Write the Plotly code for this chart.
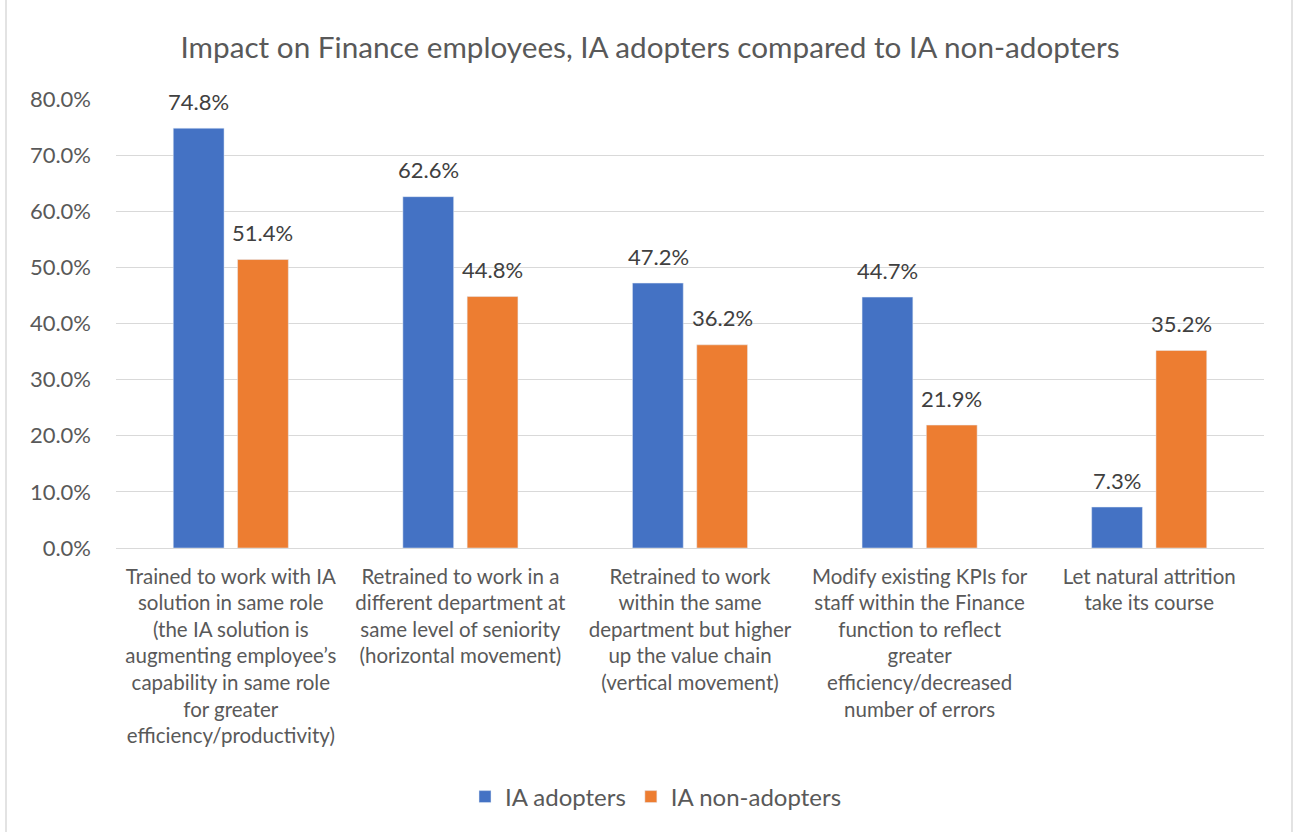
import plotly.graph_objects as go

categories = [
    "Trained to work with IA<br>solution in same role<br>(the IA solution is<br>augmenting employee’s<br>capability in same role<br>for greater<br>efficiency/productivity)",
    "Retrained to work in a<br>different department at<br>same level of seniority<br>(horizontal movement)",
    "Retrained to work<br>within the same<br>department but higher<br>up the value chain<br>(vertical movement)",
    "Modify existing KPIs for<br>staff within the Finance<br>function to reflect<br>greater<br>efficiency/decreased<br>number of errors",
    "Let natural attrition<br>take its course",
]
adopters = [0.748, 0.626, 0.472, 0.447, 0.073]
non_adopters = [0.514, 0.448, 0.362, 0.219, 0.352]
y_ticks = [0.0, 0.1, 0.2, 0.3, 0.4, 0.5, 0.6, 0.7, 0.8]

W, H = 1293, 832
ML, MR, MT, MB = 116, 29, 99, 284
TEXT = "#595959"
LABEL = "#404040"
FONT = "Lato, Carlito, Calibri, sans-serif"
BLUE, ORANGE = "#4472C4", "#ED7D31"

fig = go.Figure()
fig.add_bar(name="IA adopters", x=categories, y=adopters, marker=dict(color=BLUE))
fig.add_bar(name="IA non-adopters", x=categories, y=non_adopters, marker=dict(color=ORANGE))

# value labels above each bar, offset left/right to sit over its bar
for vals, dx in ((adopters, -32), (non_adopters, 32)):
    for cat, v in zip(categories, vals):
        fig.add_annotation(
            x=cat, y=v, xref="x", yref="y", text=f"{v*100:.1f}%",
            showarrow=False, xshift=dx, yshift=27, yanchor="middle",
            font=dict(size=22, color=LABEL, family=FONT),
        )

# light frame around the whole chart
pw, ph = W - ML - MR, H - MT - MB
fig.add_shape(
    type="rect", xref="paper", yref="paper",
    x0=(6 - ML) / pw, x1=(W - 1 - ML) / pw,
    y0=-(H + 5 - MT - ph) / ph, y1=(H - 6 - MT) / ph,
    line=dict(color="#E3E3E3", width=2), layer="below",
)

fig.update_layout(
    width=W, height=H,
    margin=dict(l=ML, r=MR, t=MT, b=MB),
    paper_bgcolor="white", plot_bgcolor="white",
    font=dict(family=FONT, color=TEXT),
    title=dict(
        text="Impact on Finance employees, IA adopters compared to IA non-adopters",
        x=650 / W, xref="container", xanchor="center", y=1 - 48 / H, yanchor="middle",
        font=dict(size=29.7, color=TEXT, family=FONT),
    ),
    barmode="group", bargap=0.44, bargroupgap=0.21,
    showlegend=True,
    legend=dict(
        orientation="h", x=(656 - ML) / pw, xanchor="center", y=-(797 - 548) / ph, yanchor="middle",
        font=dict(size=24, color=TEXT, family=FONT), itemwidth=30,
        traceorder="normal",
    ),
    xaxis=dict(
        showgrid=False, showline=False, ticks="",
        tickfont=dict(size=20.5, color=TEXT, family=FONT),
        tickangle=0, automargin=False, ticklabelstandoff=14,
    ),
    yaxis=dict(
        range=[0, 0.8], tickvals=y_ticks, tickformat=".1%",
        showgrid=True, gridcolor="#D9D9D9", gridwidth=1.3,
        zeroline=True, zerolinecolor="#D9D9D9", zerolinewidth=1.3,
        showline=False, ticks="", ticklabelstandoff=24,
        tickfont=dict(size=22, color=TEXT, family=FONT), automargin=False,
    ),
)

fig.write_html("out.html")
